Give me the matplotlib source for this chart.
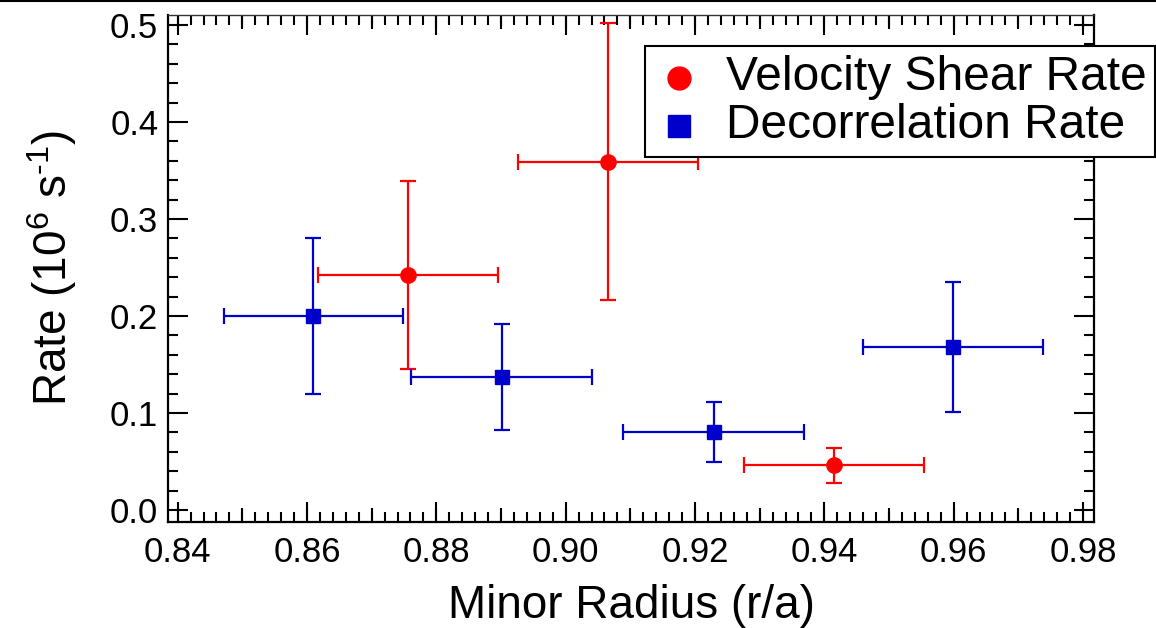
import matplotlib
matplotlib.use('Agg')
import matplotlib.pyplot as plt
from matplotlib.ticker import MultipleLocator, FixedLocator, NullFormatter
from matplotlib.lines import Line2D
from matplotlib.legend_handler import HandlerLine2D

plt.rcParams['font.family'] = ['Liberation Sans', 'DejaVu Sans']
plt.rcParams['mathtext.fontset'] = 'custom'
plt.rcParams['mathtext.rm'] = 'Liberation Sans'
plt.rcParams['mathtext.it'] = 'Liberation Sans:italic'

# ---- data ----
shear_x = [0.8756, 0.9065, 0.9415]
shear_y = [0.242, 0.359, 0.046]
shear_xerr = [0.0139, 0.0139, 0.0139]
shear_yerr = [0.097, 0.143, 0.018]

decor_x = [0.8610, 0.8901, 0.9229, 0.9599]
decor_y = [0.200, 0.137, 0.080, 0.168]
decor_xerr = [0.0139, 0.0140, 0.0140, 0.0139]
decor_yerr = [0.080, 0.055, 0.031, 0.067]

labels = ['Velocity Shear Rate', 'Decorrelation Rate']
xticks = [0.84, 0.86, 0.88, 0.90, 0.92, 0.94, 0.96, 0.98]
yticks = [0.0, 0.1, 0.2, 0.3, 0.4, 0.5]

RED = '#FF0000'
BLUE = '#0000CC'


class ShiftedHandler(HandlerLine2D):
    """Legend handler that draws the marker slightly below the text centre."""
    def create_artists(self, legend, orig_handle, xdescent, ydescent, width,
                       height, fontsize, trans):
        return super().create_artists(legend, orig_handle, xdescent,
                                      ydescent + 0.2 * fontsize, width, height,
                                      fontsize, trans)


W, H = 1156, 628
fig = plt.figure(figsize=(W / 100, H / 100), dpi=100)
ax = fig.add_axes([168 / W, 1 - 522 / H, (1094 - 168) / W, (522 - 15) / H])

ax.errorbar(shear_x, shear_y, xerr=shear_xerr, yerr=shear_yerr, fmt='o',
            color=RED, ms=11, elinewidth=1.6, capsize=5.5, capthick=1.6, zorder=3)
ax.errorbar(decor_x, decor_y, xerr=decor_xerr, yerr=decor_yerr, fmt='s',
            color=BLUE, ms=10, elinewidth=1.6, capsize=5.5, capthick=1.6, zorder=3)

ax.set_xlim(0.8385, 0.9817)
ax.set_ylim(-0.0124, 0.5103)
ax.xaxis.set_major_locator(FixedLocator(xticks))
ax.yaxis.set_major_locator(FixedLocator(yticks))
ax.set_xticklabels(['%.2f' % v for v in xticks])
ax.set_yticklabels(['%.1f' % v for v in yticks])
ax.xaxis.set_minor_locator(MultipleLocator(0.002))
ax.yaxis.set_minor_locator(MultipleLocator(0.02))

ax.tick_params(which='both', direction='in', top=True, right=True,
               width=1.5, color='black', labelsize=25)
ax.tick_params(which='major', length=14.5, pad=7)
ax.tick_params(axis='x', which='major', pad=10)
ax.tick_params(which='minor', length=7.5)

# medium ticks at every 0.01 on x
for loc in ('bottom', 'top'):
    sec = ax.secondary_xaxis(loc)
    sec.xaxis.set_major_locator(MultipleLocator(0.01))
    sec.xaxis.set_major_formatter(NullFormatter())
    sec.tick_params(direction='in', length=10, width=1.5, color='black')
    sec.spines[loc].set_visible(False)

for s in ('left', 'bottom', 'right'):
    ax.spines[s].set_linewidth(1.6)
ax.spines['top'].set_linewidth(1.0)
ax.spines['top'].set_color('#333333')

ax.set_xlabel('Minor Radius (r/a)', fontsize=33, labelpad=11)
ax.set_ylabel(r'Rate (10$^6$ s$^{\text{-1}}$)', fontsize=33, labelpad=22)

handles = [Line2D([], [], marker='o', ls='none', color=RED, ms=16.5),
           Line2D([], [], marker='s', ls='none', color=BLUE, ms=16)]
leg = fig.legend(handles, labels, loc='upper right',
                 bbox_to_anchor=(1155 / W, 1 - 46 / H), bbox_transform=fig.transFigure,
                 fontsize=34.5, frameon=True, fancybox=False, framealpha=1,
                 borderpad=0.18, handlelength=1.05, handletextpad=0.45,
                 labelspacing=0.08, borderaxespad=0,
                 handler_map={Line2D: ShiftedHandler()})
leg.set_zorder(10)
leg.get_frame().set_edgecolor('black')
leg.get_frame().set_linewidth(1.5)

# border line at the very top of the figure
fig.add_artist(Line2D([0, 1], [1 - 0.8 / H, 1 - 0.8 / H], transform=fig.transFigure,
                      color='black', lw=1.5))

fig.savefig('out.png', dpi=100)
